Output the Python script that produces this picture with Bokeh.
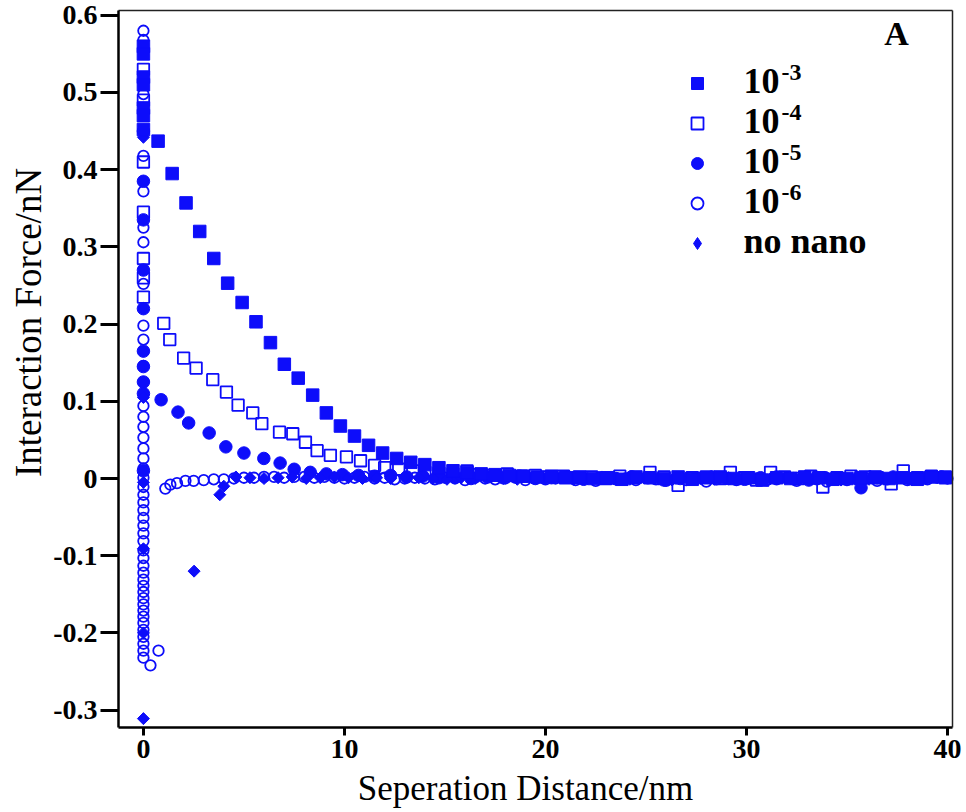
from bokeh.plotting import figure
from bokeh.models import (Range1d, FixedTicker, CustomJSTickFormatter, Legend,
                          LegendItem, Label, ColumnDataSource, LinearAxis)
from bokeh.embed import file_html
from bokeh.resources import INLINE
import math

# ---------------- data ----------------
x_ticks = [0, 10, 20, 30, 40]
y_ticks = [-0.3, -0.2, -0.1, 0.0, 0.1, 0.2, 0.3, 0.4, 0.5, 0.6]
x_title = "Seperation Distance/nm"
y_title = "Interaction Force/nN"
panel_tag = "A"

legend_bases = ["10", "10", "10", "10", "no nano"]
legend_exponents = ["-3", "-4", "-5", "-6"]

# 10^-3 (filled squares)
sq3_col_y = [0.560, 0.550, 0.520, 0.510, 0.480, 0.470, 0.452]
sq3_x = [0.73, 1.43, 2.12, 2.80, 3.50, 4.19, 4.91, 5.60, 6.32, 7.01,
         7.70, 8.42, 9.10, 9.80, 10.50, 11.20, 11.90, 12.60, 13.30, 14.00,
         14.70, 15.40, 16.1, 16.8, 17.5, 18.2, 18.9, 19.6, 20.3, 21.0,
         21.7, 22.4, 23.1, 23.8, 24.5, 25.2, 25.9, 26.6, 27.3, 28.0,
         28.7, 29.4, 30.1, 30.8, 31.5, 32.2, 32.9, 33.6, 34.3, 35.0,
         35.7, 36.4, 37.1, 37.8, 38.5, 39.2, 39.9]
sq3_y = [0.437, 0.395, 0.357, 0.320, 0.285, 0.253, 0.228, 0.203, 0.176, 0.148,
         0.130, 0.108, 0.085, 0.068, 0.055, 0.043, 0.033, 0.026, 0.021, 0.018,
         0.014, 0.010, 0.008, 0.006, 0.005, 0.004, 0.003, 0.002, 0.003, 0.001,
         0.002, 0.000, 0.001, -0.001, 0.002, 0.001, 0.000, 0.002, -0.001, 0.001,
         0.002, 0.000, 0.001, -0.002, 0.001, 0.000, 0.002, 0.001, -0.001, 0.000,
         0.001, 0.002, 0.000, 0.001, -0.001, 0.002, 0.001]

# 10^-4 (open squares)
sq4_col_y = [0.530, 0.490, 0.410, 0.345, 0.285, 0.260, 0.235]
sq4_x = [1.01, 1.31, 2.00, 2.62, 3.45, 4.13, 4.71, 5.44, 5.89, 6.77,
         7.43, 8.06, 8.64, 9.30, 10.10, 10.80, 11.50, 12.00, 12.70, 13.40,
         14.00, 14.7, 15.4, 16.1, 16.7, 17.4, 18.1, 18.8, 19.5, 20.2,
         20.9, 21.6, 22.3, 23.0, 23.7, 24.4, 25.2, 25.9, 26.6, 27.3,
         28.0, 28.7, 29.2, 29.9, 30.5, 31.2, 31.9, 32.6, 33.2, 33.8,
         34.5, 35.2, 35.9, 36.5, 37.2, 37.8, 38.5, 39.2, 39.9]
sq4_y = [0.201, 0.180, 0.156, 0.143, 0.128, 0.112, 0.095, 0.085, 0.071, 0.060,
         0.058, 0.047, 0.036, 0.030, 0.028, 0.023, 0.017, 0.014, 0.012, 0.010,
         0.008, 0.007, 0.006, 0.010, 0.005, 0.004, 0.006, 0.003, 0.004, 0.002,
         0.003, 0.001, 0.002, 0.000, 0.003, 0.001, 0.008, 0.002, -0.009, 0.001,
         0.002, 0.000, 0.008, 0.001, -0.002, 0.008, 0.002, 0.000, 0.003, -0.011,
         0.001, 0.003, 0.002, 0.001, -0.007, 0.010, 0.001, 0.003, 0.002]

# 10^-5 (filled circles)
c5_col_y = [0.450, 0.385, 0.335, 0.270, 0.220, 0.165, 0.145, 0.125, 0.110, 0.010]
c5_x = [0.88, 1.72, 2.25, 3.27, 4.10, 5.00, 5.99, 6.80, 7.50, 8.30,
        9.10, 9.90, 10.70, 11.50, 12.30, 13.10, 13.90, 14.70, 15.50, 16.30,
        17.10, 17.90, 18.70, 19.50, 20.30, 21.10, 21.90, 22.70, 23.50, 24.30,
        25.10, 25.90, 26.70, 27.50, 28.30, 29.10, 29.90, 30.70, 31.50, 32.30,
        33.10, 33.90, 34.70, 35.70, 36.50, 37.30, 38.10, 38.90, 39.70]
c5_y = [0.102, 0.086, 0.072, 0.059, 0.041, 0.033, 0.026, 0.020, 0.012, 0.008,
        0.006, 0.005, 0.004, 0.003, 0.004, 0.002, 0.003, 0.001, 0.002, 0.000,
        0.002, 0.001, 0.003, 0.000, 0.001, 0.002, -0.001, 0.001, 0.000, 0.002,
        0.001, -0.002, 0.000, 0.001, 0.002, 0.000, -0.001, 0.001, 0.002, 0.000,
        -0.002, 0.001, 0.000, -0.012, 0.001, 0.002, 0.000, 0.001, 0.002]

# 10^-6 (open circles)
c6_col_y = [0.580, 0.568, 0.498, 0.418, 0.372, 0.325, 0.306, 0.252, 0.198, 0.180,
            0.146, 0.094, 0.080, 0.067, 0.053, 0.039, 0.026, 0.013, 0.001, -0.011,
            -0.021, -0.031, -0.041, -0.051, -0.061, -0.071, -0.081, -0.093, -0.103, -0.113,
            -0.122, -0.131, -0.139, -0.147, -0.155, -0.163, -0.171, -0.179, -0.187, -0.196,
            -0.205, -0.214, -0.223, -0.232]
c6_x = [0.35, 0.75, 1.09, 1.34, 1.67, 2.09, 2.5, 3.0, 3.5, 4.0, 4.5, 5.0,
        5.5, 6.0, 6.5, 7.0, 7.5, 8.0, 8.5, 9.0, 9.5, 10.0,
        10.5, 11.0, 11.5, 12.0, 12.5, 13.0, 13.5, 14.0, 14.5, 15.0,
        15.5, 16.0, 16.5, 17.0, 17.5, 18.0, 18.5, 19.0, 19.5, 20.0,
        20.5, 21.0, 21.5, 22.0, 22.5, 23.0, 23.5, 24.0, 24.5, 25.0,
        25.5, 26.0, 26.5, 27.0, 27.5, 28.0, 28.5, 29.0, 29.5, 30.0,
        30.5, 31.0, 31.5, 32.0, 32.5, 33.0, 33.5, 34.0, 34.5, 35.0,
        35.5, 36.0, 36.5, 37.0, 37.5, 38.0, 38.5, 39.0, 39.5, 40.0]
c6_y = [-0.242, -0.223, -0.013, -0.008, -0.006, -0.003, -0.003, -0.002, -0.001, -0.001, 0.000, 0.001,
        0.001, 0.002, 0.002, 0.001, 0.002, 0.002, 0.001, 0.002, 0.001, 0.000,
        0.001, 0.002, 0.000, 0.001, -0.001, 0.000, 0.001, 0.000, -0.001, 0.001,
        0.000, -0.002, 0.001, 0.000, -0.001, 0.000, 0.001, -0.002, 0.000, -0.001,
        0.000, 0.001, -0.002, 0.000, -0.003, 0.001, -0.001, 0.000, -0.002, 0.001,
        -0.001, -0.003, 0.000, -0.002, 0.001, -0.004, -0.001, 0.000, -0.002, -0.001,
        0.000, -0.002, -0.001, 0.001, -0.003, 0.000, -0.001, -0.004, 0.000, -0.002,
        -0.001, 0.000, -0.003, -0.001, 0.001, -0.002, 0.000, -0.001, 0.001, 0.000]

# no nano (filled diamonds)
dm_col_y = [0.552, 0.442, 0.105, -0.005, -0.091, -0.200, -0.311]
dm_x = [2.52, 3.80, 4.00, 4.6, 5.3, 6.0, 6.7, 7.4, 8.1, 8.8, 9.5, 10.2, 10.9,
        11.6, 12.3, 13.0, 13.7, 14.4, 15.1, 15.8, 16.5, 17.2, 17.9,
        18.6, 19.3, 20.0, 20.7, 21.4, 22.1, 22.8, 23.5, 24.2, 24.9,
        25.6, 26.3, 27.0, 27.7, 28.4, 29.1, 29.8, 30.5, 31.2, 31.9,
        32.6, 33.3, 34.0, 34.7, 35.4, 36.1, 36.8, 37.5, 38.2, 38.9, 39.6]
dm_y = [-0.120, -0.021, -0.010, 0.002, 0.001, 0.000, 0.001, 0.002, 0.000, 0.001, 0.002, 0.001, 0.000,
        0.001, 0.000, 0.002, 0.001, 0.000, -0.001, 0.001, 0.000, 0.002, 0.000,
        -0.001, 0.001, 0.000, 0.001, -0.001, 0.000, 0.002, 0.000, -0.001, 0.001,
        0.000, -0.002, 0.001, 0.000, -0.001, 0.001, 0.000, -0.001, 0.000, 0.001,
        -0.001, 0.000, 0.001, -0.002, 0.000, -0.001, 0.001, 0.000, -0.001, 0.000, 0.001]

# ---------------- layout ----------------
W, H = 966, 812
BLUE = "#0d0dfa"
FONT = "Liberation Serif"
# data box shown with axes, and the page pixels it occupies
BOX_X = (-1.24, 40.25)
BOX_Y = (-0.3225, 0.6062)
BOX_PX_L, BOX_PX_R, BOX_PX_T, BOX_PX_B = 118, 952, 10, 727

sx = (BOX_PX_R - BOX_PX_L) / (BOX_X[1] - BOX_X[0])
sy = (BOX_PX_B - BOX_PX_T) / (BOX_Y[1] - BOX_Y[0])
x_rng = Range1d(BOX_X[0] - BOX_PX_L / sx, BOX_X[1] + (W - BOX_PX_R) / sx)
y_rng = Range1d(BOX_Y[0] - (H - BOX_PX_B) / sy, BOX_Y[1] + BOX_PX_T / sy)

p = figure(width=W, height=H, output_backend="svg", toolbar_location=None,
           x_range=x_rng, y_range=y_rng, x_axis_location=None, y_axis_location=None,
           min_border=0)
p.background_fill_color = "white"
p.border_fill_color = "white"
p.outline_line_color = None
p.xgrid.visible = False
p.ygrid.visible = False


def src(col_y, xs, ys):
    n = min(len(xs), len(ys))
    return ColumnDataSource(dict(x=[0.0] * len(col_y) + list(xs[:n]),
                                 y=list(col_y) + list(ys[:n])))


r_c6 = p.scatter("x", "y", source=src(c6_col_y, c6_x, c6_y), marker="circle",
                 size=10.5, fill_color=None, line_color=BLUE, line_width=1.8)
r_sq4 = p.scatter("x", "y", source=src(sq4_col_y, sq4_x, sq4_y), marker="square",
                  size=11.5, fill_color="white", fill_alpha=0.0, line_color=BLUE, line_width=1.8)
r_c5 = p.scatter("x", "y", source=src(c5_col_y, c5_x, c5_y), marker="circle",
                 size=12.5, fill_color=BLUE, line_color=BLUE, line_width=1)
r_dm = p.scatter("x", "y", source=src(dm_col_y, dm_x, dm_y), marker="square",
                 angle=math.pi / 4, size=8.5, fill_color=BLUE, line_color=BLUE, line_width=1)
r_sq3 = p.scatter("x", "y", source=src(sq3_col_y, sq3_x, sq3_y), marker="square",
                  size=12.5, fill_color=BLUE, line_color=BLUE, line_width=1)
# legend-only diamond (the legend does not rotate markers); its point is off-scale
r_dm_key = p.scatter(x=[float("nan")], y=[float("nan")], marker="diamond", size=14,
                     fill_color=BLUE, line_color=BLUE, line_width=1)


# ---------------- axes (fixed on the data box) ----------------
def make_axis(ticks, loc, bounds, tick_out, lw, color):
    ax = LinearAxis(ticker=FixedTicker(ticks=ticks), fixed_location=loc, bounds=bounds,
                    formatter=CustomJSTickFormatter(code="return '';"),
                    axis_line_color=color, axis_line_width=lw,
                    major_tick_line_color="black", major_tick_line_width=3,
                    major_tick_in=0, major_tick_out=tick_out,
                    minor_tick_line_color=None, major_label_text_font_size="1px",
                    major_label_standoff=0)
    return ax


p.add_layout(make_axis(y_ticks, BOX_X[0], BOX_Y, 18, 2.5, "black"), "left")
p.add_layout(make_axis(x_ticks, BOX_Y[0], BOX_X, 8, 2.5, "black"), "below")
p.add_layout(make_axis([], BOX_Y[1], BOX_X, 0, 1.5, "#222222"), "above")
p.add_layout(make_axis([], BOX_X[1], BOX_Y, 0, 1.5, "#222222"), "right")


def lab(text, x, y, size, xu="data", yu="data", align="center", bold=True, angle=0.0):
    p.add_layout(Label(x=x, y=y, x_units=xu, y_units=yu, text=text, text_font=FONT,
                       text_font_style="bold" if bold else "normal",
                       text_font_size=size, text_align=align, text_baseline="middle",
                       text_color="black", angle=angle))


# tick labels (screen units: pixels from the page's bottom-left corner)
for t in y_ticks:
    lab("0" if abs(t) < 1e-9 else f"{t:.1f}", 97, t, "28px", xu="screen", align="right")
for t in x_ticks:
    lab(str(t), t, H - 748, "28px", yu="screen")

# axis titles
lab(x_title, 525, H - 788, "35px", xu="screen", yu="screen", bold=False)
lab(y_title, 28, H - 322, "37px", xu="screen", yu="screen", bold=False, angle=math.pi / 2)

# legend keys (Bokeh legend); texts drawn as labels
renderers = [r_sq3, r_sq4, r_c5, r_c6, r_dm_key]
items = [LegendItem(label="", renderers=[r]) for r in renderers]
legend = Legend(items=items, location=(682, H - 263), padding=0, margin=0,
                spacing=0, glyph_width=30, glyph_height=40, label_height=40,
                label_standoff=0, label_text_font_size="8px",
                background_fill_alpha=0.0, border_line_alpha=0.0)
p.add_layout(legend, "center")

row_y = [H - 80, H - 120, H - 160, H - 200, H - 240]
for txt, yy in zip(legend_bases, row_y):
    lab(txt, 743, yy, "36px", xu="screen", yu="screen", align="left")
for txt, yy in zip(legend_exponents, row_y):
    lab(txt, 781, yy + 8, "24px", xu="screen", yu="screen", align="left")

lab(panel_tag, 896, H - 33, "34px", xu="screen", yu="screen")

open("out.html", "w").write(file_html(p, INLINE))
